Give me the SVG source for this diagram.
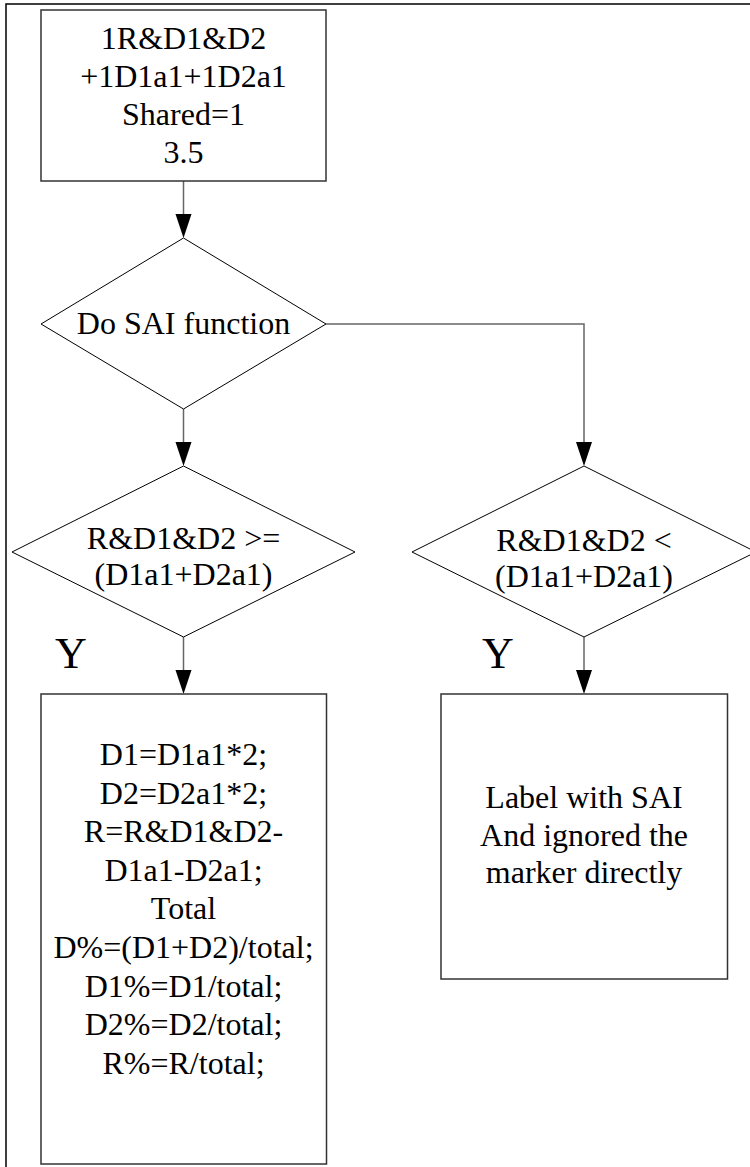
<svg xmlns="http://www.w3.org/2000/svg" width="750" height="1167" viewBox="0 0 750 1167">
<style>
text{font-family:"Liberation Serif","Times New Roman",serif;font-size:32px;fill:#000;text-anchor:middle}
.box{fill:#fff;stroke:#333;stroke-width:1.5}
.dia{fill:#fff;stroke:#000;stroke-width:1}
.con{fill:none;stroke:#666;stroke-width:1.5}
.ah{fill:#000;stroke:none}
.y{font-size:44px;text-anchor:start}
</style>
<rect width="750" height="1167" fill="#fff"/>
<g id="frame"><path d="M750,4 H6 V1167" fill="none" stroke="#000" stroke-width="1.5"/></g>
<g id="connectors">
<path class="con" d="M183.5,181 V214"/>
<path class="ah" d="M175.5,214 L191.5,214 L183.5,238 Z"/>
<path class="con" d="M183.5,409 V442"/>
<path class="ah" d="M175.5,442 L191.5,442 L183.5,466 Z"/>
<path class="con" d="M326,324 H584 V442"/>
<path class="ah" d="M576,442 L592,442 L584,466 Z"/>
<path class="con" d="M183.5,637 V670"/>
<path class="ah" d="M175.5,670 L191.5,670 L183.5,694 Z"/>
<path class="con" d="M584,637 V670"/>
<path class="ah" d="M576,670 L592,670 L584,694 Z"/>
</g>
<g id="start">
<rect class="box" x="41" y="10" width="285" height="171"/>
<text x="183.5" y="49">1R&amp;D1&amp;D2</text>
<text x="183.5" y="87">+1D1a1+1D2a1</text>
<text x="183.5" y="125">Shared=1</text>
<text x="183.5" y="163">3.5</text>
</g>
<g id="sai">
<polygon class="dia" points="183.5,238 326,324 183.5,409 41,324"/>
<text x="183.5" y="334">Do SAI function</text>
</g>
<g id="ge">
<polygon class="dia" points="183.5,466 355,552 183.5,637 12,552"/>
<text x="183.5" y="549">R&amp;D1&amp;D2 &gt;=</text>
<text x="183.5" y="585">(D1a1+D2a1)</text>
</g>
<g id="lt">
<polygon class="dia" points="584,466 756,552 584,637 412,552"/>
<text x="584" y="551">R&amp;D1&amp;D2 &lt;</text>
<text x="584" y="587">(D1a1+D2a1)</text>
</g>
<g id="yleft"><text class="y" x="55" y="668">Y</text></g>
<g id="yright"><text class="y" x="482" y="668">Y</text></g>
<g id="compute">
<rect class="box" x="41" y="694" width="285.5" height="470"/>
<text x="183.5" y="765">D1=D1a1*2;</text>
<text x="183.5" y="803.6">D2=D2a1*2;</text>
<text x="183.5" y="842.2">R=R&amp;D1&amp;D2-</text>
<text x="183.5" y="880.8">D1a1-D2a1;</text>
<text x="183.5" y="919.4">Total</text>
<text x="183.5" y="958">D%=(D1+D2)/total;</text>
<text x="183.5" y="996.6">D1%=D1/total;</text>
<text x="183.5" y="1035.2">D2%=D2/total;</text>
<text x="183.5" y="1073.8">R%=R/total;</text>
</g>
<g id="label">
<rect class="box" x="441" y="694" width="286.5" height="285"/>
<text x="584" y="808">Label with SAI</text>
<text x="584" y="845.5">And ignored the</text>
<text x="584" y="883">marker directly</text>
</g>
</svg>
